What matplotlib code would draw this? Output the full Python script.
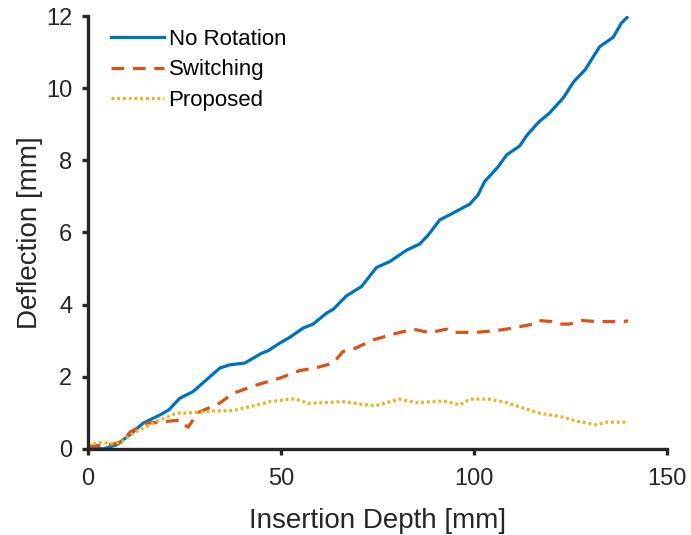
import matplotlib.pyplot as plt

plt.rcParams['font.family'] = ['Liberation Sans', 'DejaVu Sans']

# No Rotation
x_norot = [0, 2, 4, 7.4, 10.9, 14.3, 18.7, 21, 23.8, 27.3, 30.7, 34.2, 36.8, 40.7, 45, 46.7, 49.7,
           52.3, 55.8, 58.4, 61.8, 63.6, 67, 70.9, 74.8, 78.2, 82.6, 86, 88.2, 91.2, 93.8, 99,
           101.1, 102.8, 106.3, 108.5, 111.9, 113.8, 116.9, 119.5, 123.1, 125.9, 128.9, 132.6,
           136.1, 138.2, 139.7]
y_norot = [0, 0.02, 0, 0.11, 0.39, 0.71, 0.94, 1.08, 1.40, 1.59, 1.91, 2.24, 2.33, 2.38, 2.65,
           2.72, 2.93, 3.09, 3.35, 3.46, 3.76, 3.87, 4.24, 4.5, 5.03, 5.19, 5.51, 5.68, 5.93, 6.35,
           6.49, 6.79, 7.04, 7.41, 7.82, 8.15, 8.4, 8.7, 9.07, 9.3, 9.72, 10.18, 10.52, 11.15,
           11.41, 11.8, 11.96]

# Switching
x_switch = [0, 3, 6, 9, 11, 15.2, 20.4, 24, 25, 26, 28.5, 34.2, 37.6, 43.7, 49.7, 54.9, 59.2,
            63.6, 66.1, 68.7, 73.9, 79.1, 84.3, 88.6, 92.9, 94.6, 100.7, 105.9, 110.2, 115.4,
            116.7, 120.1, 121.8, 124.9, 127.9, 131.8, 138.7, 140]
y_switch = [0.06, 0.1, 0.12, 0.2, 0.47, 0.71, 0.76, 0.8, 0.67, 0.6, 1.0, 1.27, 1.54, 1.77, 1.96,
            2.17, 2.25, 2.38, 2.7, 2.76, 3.02, 3.18, 3.32, 3.22, 3.32, 3.23, 3.23, 3.28, 3.35,
            3.46, 3.56, 3.53, 3.46, 3.46, 3.56, 3.53, 3.53, 3.55]

# Proposed
x_prop = [0, 3.1, 6.6, 9.1, 11.7, 15.2, 18.7, 23, 27.3, 32.5, 37.6, 42.8, 47.2, 53.6, 57.1, 66.1,
          74.4, 80.8, 85.2, 92.1, 96.4, 99, 104.1, 108.5, 112.8, 117.1, 122.3, 127, 131.8, 134.4,
          139.5]
y_prop = [0.1, 0.18, 0.14, 0.22, 0.43, 0.62, 0.8, 0.99, 1.0, 1.05, 1.06, 1.19, 1.31, 1.39, 1.26,
          1.31, 1.19, 1.38, 1.28, 1.33, 1.22, 1.38, 1.38, 1.28, 1.13, 0.99, 0.9, 0.76, 0.67, 0.74,
          0.74]

fig = plt.figure(figsize=(6.91, 5.35), dpi=100)
ax = fig.add_axes([0.127, 0.161, 0.838, 0.809])

ax.plot(x_norot, y_norot, color='#0072BD', lw=2.3, label='No Rotation')
ax.plot(x_switch, y_switch, color='#D95319', lw=2.3, ls=(0, (4, 2.7)), label='Switching')
ax.plot(x_prop, y_prop, color='#EDB120', lw=2.3, ls=(0, (0.9, 0.9)), label='Proposed')

ax.set_xlim(0, 150)
ax.set_ylim(0, 12)
ax.set_xticks([0, 50, 100, 150])
ax.set_yticks([0, 2, 4, 6, 8, 10, 12])
for s in ['top', 'right']:
    ax.spines[s].set_visible(False)
for s in ['left', 'bottom']:
    ax.spines[s].set_linewidth(2.4)
    ax.spines[s].set_color('#262626')
ax.tick_params(direction='out', width=2.4, length=4, color='#262626', labelcolor='#262626',
               labelsize=17)
ax.tick_params(axis='x', pad=10)
ax.tick_params(axis='y', pad=7)
ax.set_xlabel('Insertion Depth [mm]', fontsize=20, color='#262626', labelpad=13)
ax.set_ylabel('Deflection [mm]', fontsize=20, color='#262626', labelpad=2)

ax.legend(loc='upper left', bbox_to_anchor=(0.013, 1.006), frameon=False, fontsize=16,
          handlelength=2.4, handletextpad=0.2, labelspacing=0.42, borderaxespad=0.3)

fig.savefig('out.png')
